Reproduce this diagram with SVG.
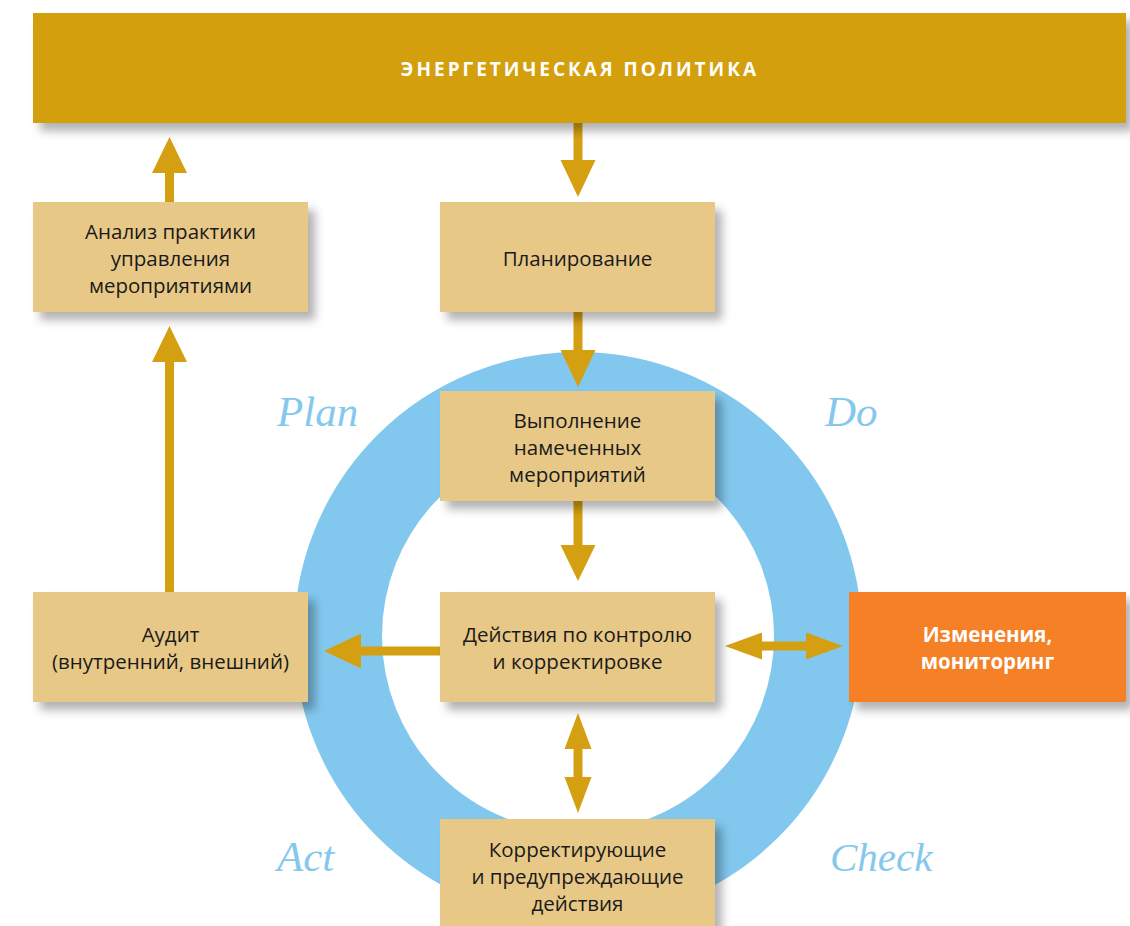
<svg xmlns="http://www.w3.org/2000/svg" width="1130" height="926" viewBox="0 0 1130 926">
<defs>
<filter id="sh" x="-10%" y="-20%" width="130%" height="150%">
<feDropShadow dx="7" dy="8" stdDeviation="5" flood-color="#000" flood-opacity="0.3"/>
</filter>
<style>
.box{fill:#E8C886;filter:url(#sh)}
.bar{fill:#D49F10;filter:url(#sh)}
.org{fill:#F58025;filter:url(#sh)}
.t{font-family:"Open Sans","Noto Sans","DejaVu Sans",sans-serif;font-size:20.5px;fill:#1a1a1a;text-anchor:middle}
.tw{font-family:"Open Sans","Noto Sans","DejaVu Sans",sans-serif;font-size:20.5px;fill:#fff;font-weight:bold;text-anchor:middle}
.tb{font-family:"Open Sans","Noto Sans","DejaVu Sans",sans-serif;font-size:19px;fill:#fff;font-weight:bold;text-anchor:middle;letter-spacing:3px}
.pd{font-family:"Liberation Serif","Times New Roman",serif;font-style:italic;font-size:43px;fill:#85C8EE}
.ar{fill:#D49F10}
</style>
</defs>
<rect width="1130" height="926" fill="#fff"/>
<g id="cycle">
<circle cx="578" cy="636" r="240" fill="none" stroke="#82C8EE" stroke-width="88"/>
<text class="pd" x="277" y="426">Plan</text>
<text class="pd" x="825" y="426">Do</text>
<text class="pd" x="277" y="871">Act</text>
<text class="pd" x="830" y="871" style="font-size:41px">Check</text>
</g>
<g id="connectors">
<path class="ar" d="M573.5,123 h9 v37 h13 l-17.5,37 l-17.5,-37 h13 z"/>
<path class="ar" d="M573.5,312 h9 v38 h13 l-17.5,37 l-17.5,-37 h13 z"/>
<path class="ar" d="M573.5,501 h9 v44 h13 l-17.5,36 l-17.5,-36 h13 z"/>
<path class="ar" d="M578,713 l13.5,36 h-9 v28 h9 l-13.5,36 l-13.5,-36 h9 v-28 h-9 z"/>
<path class="ar" d="M440,646.5 v9 h-79 v13 l-37,-17.5 l37,-17.5 v13 z"/>
<path class="ar" d="M725,646 l37,-13.5 v9 h44 v-9 l37,13.5 l-37,13.5 v-9 h-44 v9 z"/>
<path class="ar" d="M165,592 h9 v-230 h13 l-17.5,-36 l-17.5,36 h13 z"/>
<path class="ar" d="M165,202 h9 v-29 h13 l-17.5,-36 l-17.5,36 h13 z"/>
</g>
<g id="n-policy">
<rect class="bar" x="33" y="13" width="1093" height="110"/>
<text class="tb" x="580" y="76">ЭНЕРГЕТИЧЕСКАЯ ПОЛИТИКА</text>
</g>
<g id="n-analysis">
<rect class="box" x="33" y="202" width="275" height="110"/>
<text class="t" x="170.5" y="239">Анализ практики</text>
<text class="t" x="170.5" y="266">управления</text>
<text class="t" x="170.5" y="293">мероприятиями</text>
</g>
<g id="n-planning">
<rect class="box" x="440" y="202" width="275" height="110"/>
<text class="t" x="577.5" y="266">Планирование</text>
</g>
<g id="n-execution">
<rect class="box" x="440" y="391" width="275" height="110"/>
<text class="t" x="577.5" y="428">Выполнение</text>
<text class="t" x="577.5" y="455">намеченных</text>
<text class="t" x="577.5" y="482">мероприятий</text>
</g>
<g id="n-control">
<rect class="box" x="440" y="592" width="275" height="110"/>
<text class="t" x="577.5" y="642">Действия по контролю</text>
<text class="t" x="577.5" y="669">и корректировке</text>
</g>
<g id="n-audit">
<rect class="box" x="33" y="592" width="275" height="110"/>
<text class="t" x="170.5" y="642">Аудит</text>
<text class="t" x="170.5" y="669">(внутренний, внешний)</text>
</g>
<g id="n-changes">
<rect class="org" x="849" y="592" width="277" height="110"/>
<text class="tw" x="987.5" y="642">Изменения,</text>
<text class="tw" x="987.5" y="669">мониторинг</text>
</g>
<g id="n-corrective">
<rect class="box" x="440" y="819" width="275" height="120"/>
<text class="t" x="577.5" y="857">Корректирующие</text>
<text class="t" x="577.5" y="884">и предупреждающие</text>
<text class="t" x="577.5" y="911">действия</text>
</g>
</svg>
